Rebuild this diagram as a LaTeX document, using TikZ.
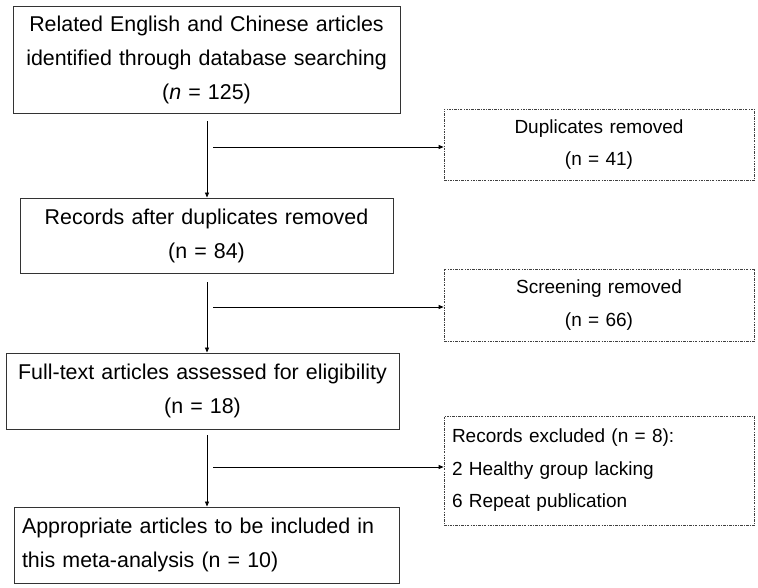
\documentclass[tikz,border=0pt]{standalone}
\usepackage{fontspec}
\setmainfont{Liberation Sans}
\usetikzlibrary{arrows.meta}

\tikzset{
  mainbox/.style={draw=black!80, line width=0.9pt, inner xsep=0pt, inner ysep=0pt,
                  align=center, font=\fontsize{21.4}{34}\selectfont},
  exbox/.style={draw=black!75, line width=0.8pt,
                dash pattern=on 2.5pt off 1.2pt on 0.8pt off 1.2pt,
                inner xsep=0pt, inner ysep=0pt, align=center,
                font=\fontsize{19}{32.5}\selectfont},
}

\begin{document}
\begin{tikzpicture}[x=1pt,y=-1pt,->,>={Triangle[length=5pt,width=4pt]},
                    line width=0.8pt]
  \useasboundingbox (0,0) rectangle (758,587);

  % main column
  \node[mainbox,text width=387pt,minimum height=107pt] (ident) at (206.5,60)
    {Related English and Chinese articles\\identified through database searching\\(\textit{n} = 125)};
  \node[mainbox,text width=373pt,minimum height=75pt] (dedup) at (206.5,235.5)
    {Records after duplicates removed\\(n = 84)};
  \node[mainbox,text width=393pt,minimum height=76pt] (full) at (202.5,391)
    {Full-text articles assessed for eligibility\\(n = 18)};
  \node[mainbox,align=left,inner xsep=8pt,text width=369pt,minimum height=76pt] (incl) at (206.5,545)
    {Appropriate articles to be included in\\this meta-analysis (n = 10)};

  % removed records
  \node[exbox,text width=310pt,minimum height=71pt] (dup) at (599,144.5)
    {Duplicates removed\\(n = 41)};
  \node[exbox,text width=310pt,minimum height=72pt] (scr) at (599,305)
    {Screening removed\\(n = 66)};
  \node[exbox,align=left,inner xsep=8pt,text width=294pt,minimum height=109pt] (excl) at (599,470.5)
    {Records excluded (n = 8):\\2 Healthy group lacking\\6 Repeat publication};

  \coordinate (s1) at (207,121);
  \coordinate (s2) at (207,282);
  \coordinate (s3) at (207,435);
  \coordinate (h1) at (213,147);
  \coordinate (h2) at (213,307);
  \coordinate (h3) at (213,467);

  \draw (s1) -- (s1 |- dedup.north);
  \draw (s2) -- (s2 |- full.north);
  \draw (s3) -- (s3 |- incl.north);
  \draw (h1) -- (h1 -| dup.west);
  \draw (h2) -- (h2 -| scr.west);
  \draw (h3) -- (h3 -| excl.west);
\end{tikzpicture}
\end{document}
